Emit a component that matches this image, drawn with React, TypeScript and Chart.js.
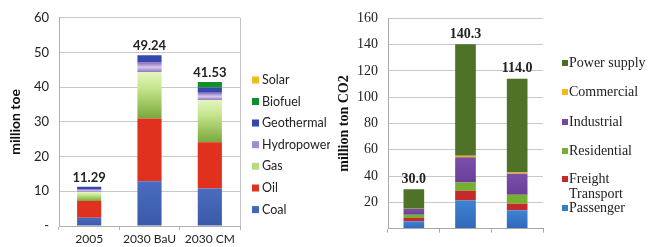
import React, { useEffect, useRef } from 'react';
import { Chart, registerables } from 'chart.js';
Chart.register(...registerables);

// ---------- Left chart data (million toe) ----------
const energyCategories = ['2005', '2030 BaU', '2030 CM'];
const coal = [2.4, 12.9, 10.8];
const oil = [4.8, 18.1, 13.3];
const gas = [2.6, 13.4, 12.2];
const hydropower = [0.7, 2.7, 2.1];
const geothermal = [0.79, 2.14, 1.5];
const biofuel = [0, 0, 1.6];
const solar = [0, 0, 0.03];
const energyTicks = [0, 10, 20, 30, 40, 50, 60];

// ---------- Right chart data (million ton CO2) ----------
const co2Categories = ['2005', '2030 BaU', '2030 CM'];
const passenger = [5.5, 21.4, 13.9];
const freight = [2.5, 7.4, 5.0];
const residential = [2.6, 6.3, 6.9];
const industrial = [4.3, 19.2, 15.9];
const commercial = [0.2, 1.2, 1.0];
const powerSupply = [14.9, 84.8, 71.3];
const co2Ticks = [0, 20, 40, 60, 80, 100, 120, 140, 160];

function vGrad(stops: [number, string][]) {
  return (ctx: any) => {
    const chart = ctx.chart;
    const yScale = chart.scales && chart.scales.y;
    if (!yScale || ctx.type !== 'data') return stops[0][1];
    const i = ctx.dataIndex;
    const di = ctx.datasetIndex;
    let base = 0;
    for (let k = 0; k < di; k++) base += chart.data.datasets[k].data[i];
    const top = base + chart.data.datasets[di].data[i];
    const y0 = yScale.getPixelForValue(top);
    const y1 = yScale.getPixelForValue(base);
    if (!isFinite(y0) || !isFinite(y1) || y1 - y0 < 0.5) return stops[0][1];
    const g = chart.ctx.createLinearGradient(0, y0, 0, y1);
    stops.forEach(([o, c]) => g.addColorStop(o, c));
    return g;
  };
}

const overlayPlugin = {
  id: 'overlay',
  afterDatasetsDraw(chart: any, _args: any, opts: any) {
    const { ctx } = chart;
    const xs = chart.scales.x;
    const ys = chart.scales.y;
    const ds = chart.data.datasets;
    const n = chart.data.labels.length;
    ctx.save();
    // totals
    ctx.font = opts.totalFont;
    ctx.fillStyle = '#222';
    ctx.textAlign = 'center';
    ctx.textBaseline = 'bottom';
    for (let i = 0; i < n; i++) {
      let total = 0;
      ds.forEach((d: any) => (total += d.data[i]));
      const x = xs.getPixelForValue(i);
      const y = ys.getPixelForValue(total);
      ctx.fillText(total.toFixed(opts.decimals), x + (opts.totalDx || 0), y - opts.totalGap);
    }
    // right frame
    if (opts.rightFrame) {
      ctx.strokeStyle = opts.frameColor;
      ctx.lineWidth = 1;
      ctx.beginPath();
      const xr = Math.round(chart.chartArea.right) + 0.5;
      ctx.moveTo(xr, chart.chartArea.top);
      ctx.lineTo(xr, chart.chartArea.bottom);
      ctx.stroke();
    }
    // legend
    const items = ds.slice().reverse();
    ctx.font = opts.legendFont;
    ctx.textAlign = 'left';
    ctx.textBaseline = 'middle';
    items.forEach((d: any, k: number) => {
      const yc = opts.legendY[k];
      ctx.fillStyle = d.legendColor;
      ctx.fillRect(opts.boxX, yc - opts.boxSize / 2, opts.boxSize, opts.boxSize);
      ctx.fillStyle = '#222';
      const lines: string[] = d.legendText || [d.label];
      lines.forEach((ln, j) => {
        ctx.fillText(ln, opts.textX, yc + j * opts.lineH);
      });
    });
    ctx.restore();
  },
};

function leftConfig(): any {
  const sans = 'Lato, "Liberation Sans", sans-serif';
  return {
    type: 'bar',
    data: {
      labels: energyCategories,
      datasets: [
        { label: 'Coal', data: coal, backgroundColor: vGrad([[0, '#4a6cc0'], [1, '#3a5aa8']]), legendColor: '#4466b8' },
        { label: 'Oil', data: oil, backgroundColor: '#e0301e', legendColor: '#e0301e' },
        { label: 'Gas', data: gas, backgroundColor: vGrad([[0, '#e4f5c0'], [0.35, '#c6e58c'], [1, '#78a83a']]), legendColor: '#b6dc80' },
        { label: 'Hydropower', data: hydropower, backgroundColor: vGrad([[0, '#8a6cbc'], [0.5, '#d6c8ec'], [1, '#9078c4']]), legendColor: '#a58ad0' },
        { label: 'Geothermal', data: geothermal, backgroundColor: '#3448ae', legendColor: '#3448ae' },
        { label: 'Biofuel', data: biofuel, backgroundColor: '#11902a', legendColor: '#11902a' },
        { label: 'Solar', data: solar, backgroundColor: '#f6b81c', legendColor: '#f6b81c' },
      ],
    },
    options: {
      responsive: false,
      animation: false,
      devicePixelRatio: 1,
      layout: { padding: { left: 0, right: 90, top: 17, bottom: 0 } },
      datasets: { bar: { barPercentage: 0.4, categoryPercentage: 1, borderWidth: 0 } },
      plugins: {
        legend: { display: false },
        tooltip: { enabled: false },
        overlay: {
          totalFont: `bold 13px ${sans}`,
          decimals: 2,
          totalGap: 3,
          rightFrame: true,
          frameColor: '#c4c4c4',
          legendFont: `12.5px ${sans}`,
          legendY: [80, 101.5, 123, 144.7, 166.3, 188, 209.6],
          boxX: 252,
          boxSize: 7,
          textX: 262,
          lineH: 15,
        },
      },
      scales: {
        x: {
          stacked: true,
          grid: { drawOnChartArea: false, drawTicks: true, tickLength: 4, color: '#b0b0b0' },
          border: { color: '#b0b0b0' },
          ticks: { font: { family: sans, size: 12 }, color: '#222', padding: 2 },
          afterFit: (s: any) => { s.height = 21; },
        },
        y: {
          stacked: true,
          min: 0,
          max: 60,
          afterBuildTicks: (s: any) => { s.ticks = energyTicks.map((v) => ({ value: v })); },
          grid: { color: '#c8c8c8', drawTicks: false },
          border: { color: '#b0b0b0' },
          ticks: {
            font: { family: sans, size: 13 },
            color: '#222',
            padding: 10,
            callback: (v: any) => (v === 0 ? '-' : String(v)),
          },
          title: { display: true, text: 'million toe', font: { family: sans, size: 14, weight: 'bold' }, color: '#111', padding: { top: 7, bottom: 0 } },
          afterFit: (s: any) => { s.width = 59; },
        },
      },
    },
    plugins: [overlayPlugin],
  };
}

function rightConfig(): any {
  const serif = '"Liberation Serif", "DejaVu Serif", serif';
  return {
    type: 'bar',
    data: {
      labels: co2Categories,
      datasets: [
        { label: 'Passenger', data: passenger, backgroundColor: vGrad([[0, '#3f82d4'], [1, '#3068b8']]), legendColor: '#3a78c8' },
        { label: 'Freight Transport', legendText: ['Freight', 'Transport'], data: freight, backgroundColor: '#c42a2a', legendColor: '#c42a2a' },
        { label: 'Residential', data: residential, backgroundColor: '#76b032', legendColor: '#76b032' },
        { label: 'Industrial', data: industrial, backgroundColor: vGrad([[0, '#7a50ac'], [1, '#6a3e98']]), legendColor: '#7446a6' },
        { label: 'Commercial', data: commercial, backgroundColor: '#f2b010', legendColor: '#f6b81c' },
        { label: 'Power supply', data: powerSupply, backgroundColor: '#4e7228', legendColor: '#4a6e26' },
      ],
    },
    options: {
      responsive: false,
      animation: false,
      devicePixelRatio: 1,
      layout: { padding: { left: 0, right: 105, top: 18, bottom: 0 } },
      datasets: { bar: { barPercentage: 0.4, categoryPercentage: 1, borderWidth: 0 } },
      plugins: {
        legend: { display: false },
        tooltip: { enabled: false },
        overlay: {
          totalFont: `bold 14px ${serif}`,
          decimals: 1,
          totalGap: 3,
          rightFrame: false,
          legendFont: `14px ${serif}`,
          legendY: [63, 92, 122, 151, 179, 208],
          boxX: 232,
          boxSize: 6,
          textX: 239,
          lineH: 15,
        },
      },
      scales: {
        x: {
          stacked: true,
          grid: { drawOnChartArea: false, drawTicks: true, tickLength: 4, color: '#a8a8a8' },
          border: { color: '#a8a8a8' },
          ticks: { display: true, callback: () => '' },
          afterFit: (s: any) => { s.height = 18; },
        },
        y: {
          stacked: true,
          min: 0,
          max: 160,
          afterBuildTicks: (s: any) => { s.ticks = co2Ticks.map((v) => ({ value: v })); },
          grid: { color: '#c8c8c8', drawTicks: false },
          border: { color: '#a8a8a8' },
          ticks: {
            font: { family: serif, size: 14 },
            color: '#222',
            padding: 10,
            callback: (v: any) => (v === 0 ? '' : String(v)),
          },
          title: { display: true, text: 'million ton CO2', font: { family: serif, size: 14, weight: 'bold' }, color: '#111', padding: { top: 6, bottom: 0 } },
          afterFit: (s: any) => { s.width = 58; },
        },
      },
    },
    plugins: [overlayPlugin],
  };
}

export default function App() {
  const leftRef = useRef<HTMLCanvasElement>(null);
  const rightRef = useRef<HTMLCanvasElement>(null);
  useEffect(() => {
    const c1 = new Chart(leftRef.current as HTMLCanvasElement, leftConfig());
    const c2 = new Chart(rightRef.current as HTMLCanvasElement, rightConfig());
    return () => {
      c1.destroy();
      c2.destroy();
    };
  }, []);
  return (
    <div style={{ position: 'fixed', left: 0, top: 0, width: 648, height: 247, background: '#fff' }}>
      <canvas ref={leftRef} width={330} height={247} style={{ position: 'absolute', left: 0, top: 0, width: 330, height: 247 }} />
      <canvas ref={rightRef} width={318} height={247} style={{ position: 'absolute', left: 330, top: 0, width: 318, height: 247 }} />
    </div>
  );
}
